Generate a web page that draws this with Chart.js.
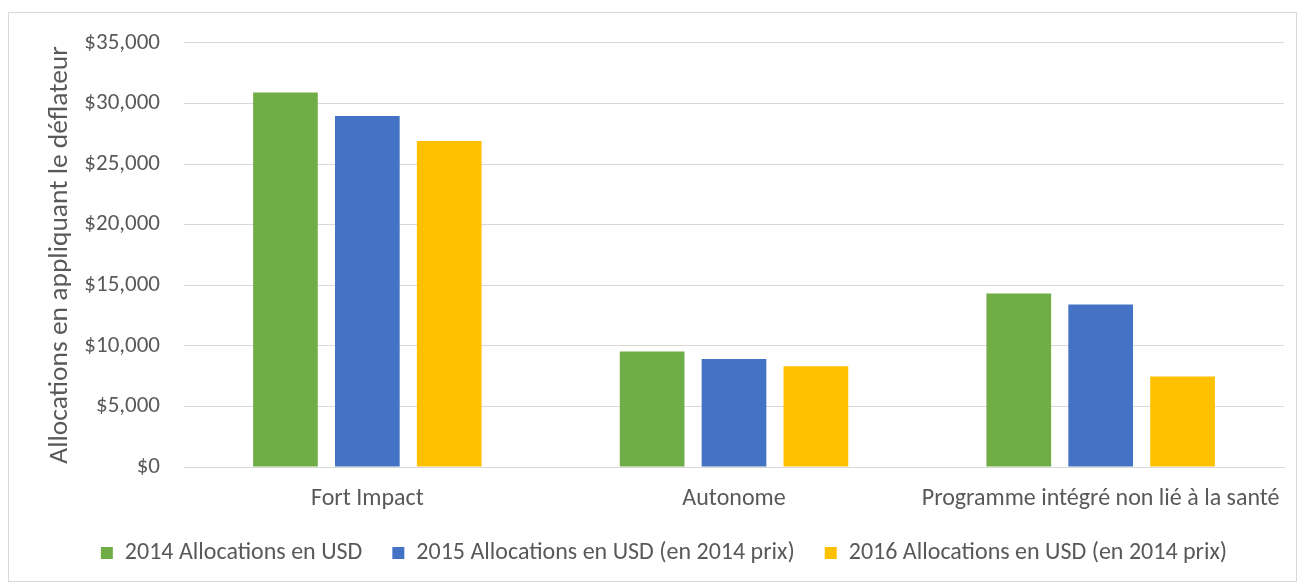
<!DOCTYPE html>
<html>
<head>
<meta charset="utf-8">
<script src="https://cdn.jsdelivr.net/npm/chart.js@4/dist/chart.umd.min.js"></script>
<style>
  html, body { margin: 0; padding: 0; background: #fff; }
  #frame { position: absolute; left: 8px; top: 12px; width: 1287px; height: 568px; border: 1px solid #d9d9d9; }
  #c { position: absolute; left: 9px; top: 5px; }
</style>
</head>
<body>
<div id="frame"></div>
<canvas id="c" width="1287" height="570"></canvas>
<script>
const categories = ['Fort Impact', 'Autonome', 'Programme intégré non lié à la santé'];
const alloc2014 = [30900, 9530, 14310];
const alloc2015 = [28970, 8920, 13400];
const alloc2016 = [26900, 8320, 7470];
const yTicks = [0, 5000, 10000, 15000, 20000, 25000, 30000, 35000];

const font = "Calibri, Carlito, Lato, sans-serif";
const textColor = '#595959';

new Chart(document.getElementById('c').getContext('2d'), {
  type: 'bar',
  data: {
    labels: categories,
    datasets: [
      { label: '2014 Allocations en USD', data: alloc2014, backgroundColor: '#70ad47' },
      { label: '2015 Allocations en USD (en 2014 prix)', data: alloc2015, backgroundColor: '#4472c4' },
      { label: '2016 Allocations en USD (en 2014 prix)', data: alloc2016, backgroundColor: '#ffc000' },
    ],
  },
  options: {
    responsive: false,
    animation: false,
    layout: { padding: { left: 35, right: 12, top: 16, bottom: 0 } },
    datasets: { bar: { barPercentage: 0.79, categoryPercentage: 0.67 } },
    plugins: {
      tooltip: { enabled: false },
      legend: {
        position: 'bottom',
        labels: {
          color: textColor,
          font: { family: font, size: 24 },
          boxWidth: 12,
          boxHeight: 12,
          padding: 30,
        },
      },
    },
    scales: {
      x: {
        grid: { display: false },
        border: { color: '#d9d9d9' },
        ticks: { color: textColor, font: { family: font, size: 24 }, padding: 10 },
        afterFit: s => { s.height = 44; },
      },
      y: {
        min: 0,
        max: 35000,
        afterBuildTicks: s => { s.ticks = yTicks.map(v => ({ value: v })); },
        grid: { color: '#d9d9d9', drawTicks: false },
        border: { display: false },
        ticks: {
          color: textColor,
          font: { family: font, size: 23 },
          padding: 24,
          callback: v => '$' + v.toLocaleString('en-US'),
        },
        title: {
          display: true,
          text: 'Allocations en appliquant le déflateur',
          color: textColor,
          font: { family: font, size: 27.5 },
          padding: { top: 0, bottom: 0 },
        },
        afterFit: s => { s.width = 140; },
      },
    },
  },
});
</script>
</body>
</html>
